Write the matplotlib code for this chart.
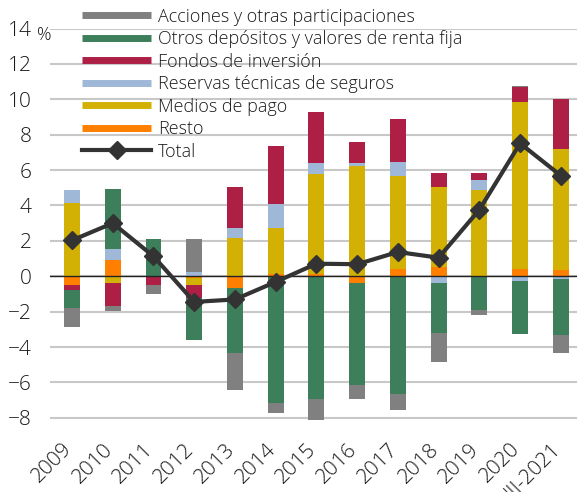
import numpy as np
import matplotlib.pyplot as plt
import matplotlib.transforms as mtransforms
from matplotlib.lines import Line2D

plt.rcParams['font.family'] = ['Open Sans', 'DejaVu Sans']
plt.rcParams['font.weight'] = 'light'

# categories
years = ['2009', '2010', '2011', '2012', '2013', '2014', '2015', '2016',
         '2017', '2018', '2019', '2020', 'III-2021']

# contributions (pp), in stacking order from the zero line outwards
resto = [-0.47, 0.94, 0.0, -0.12, -0.68, 0.15, 0.15, -0.38, 0.43, 0.53, 0.0, 0.43, 0.34]
medios = [4.15, -0.38, 0.0, -0.35, 2.14, 2.59, 5.63, 6.21, 5.24, 4.54, 4.88, 9.39, 6.85]
reservas = [0.73, 0.58, 0.0, 0.22, 0.60, 1.32, 0.60, 0.17, 0.81, -0.38, 0.58, -0.28, -0.17]
fondos = [-0.28, -1.31, -0.47, -0.75, 2.33, 3.32, 2.92, 1.21, 2.42, 0.79, 0.40, 0.88, 2.82]
otros = [-1.03, 3.42, 2.12, -2.40, -3.64, -7.17, -6.95, -5.76, -6.65, -2.85, -1.92, -3.01, -3.15]
acciones = [-1.11, -0.26, -0.51, 1.88, -2.10, -0.57, -1.20, -0.81, -0.90, -1.60, -0.28, 0.08, -1.00]
total = [2.03, 3.00, 1.13, -1.45, -1.31, -0.32, 0.71, 0.68, 1.37, 1.05, 3.76, 7.51, 5.69]

series = [
    ('Resto', resto, '#ff8000'),
    ('Medios de pago', medios, '#d3b104'),
    ('Reservas técnicas de seguros', reservas, '#9fb8d8'),
    ('Fondos de inversión', fondos, '#ae1f45'),
    ('Otros depósitos y valores de renta fija', otros, '#3d7f5a'),
    ('Acciones y otras participaciones', acciones, '#808080'),
]

fig = plt.figure(figsize=(5.78, 4.92), dpi=100)
ax = fig.add_axes([0.0865, 0.14, 0.912, 0.802])

x = np.arange(len(years))
pos_bottom = np.zeros(len(years))
neg_bottom = np.zeros(len(years))
for name, vals, col in series:
    v = np.array(vals)
    bottom = np.where(v >= 0, pos_bottom, neg_bottom)
    ax.bar(x, v, width=0.39, bottom=bottom, color=col, zorder=2)
    pos_bottom += np.where(v >= 0, v, 0)
    neg_bottom += np.where(v < 0, v, 0)

ax.axhline(0, color='#222222', lw=1.0, zorder=3)
ax.plot(x, total, color='#333333', lw=3, marker='D', ms=9, zorder=4)

ax.set_xlim(-0.54, 12.4)
ax.set_ylim(-8.3, 14)
ax.set_yticks(range(-8, 15, 2))
ax.grid(axis='y', color='#c8c8c8', lw=1.5, zorder=0)
ax.set_axisbelow(True)
for s in ax.spines.values():
    s.set_visible(False)

ax.set_xticks(x)
ax.set_xticklabels(years, rotation=45, ha='right', va='top', rotation_mode='anchor')
ax.tick_params(axis='x', length=0, pad=8, labelsize=15, labelcolor='#1a1a1a')
ax.tick_params(axis='y', length=0, pad=13, labelsize=15, labelcolor='#1a1a1a')
shift = mtransforms.ScaledTranslation(-10 / 100, -5 / 100, fig.dpi_scale_trans)
for lab in ax.get_xticklabels():
    lab.set_transform(lab.get_transform() + shift)

fig.text(0.064, 0.928, '%', fontsize=13, color='#1a1a1a', va='center')

# legend (reverse of stacking order, then the total)
handles = [Line2D([0], [0], color=col, lw=5, solid_capstyle='butt')
           for name, vals, col in reversed(series)]
labels = [name for name, vals, col in reversed(series)]
handles.append(Line2D([0], [0], color='#333333', lw=3, marker='D', ms=9))
labels.append('Total')
fig.legend(handles, labels, loc='upper left', bbox_to_anchor=(0.13, 0.999),
           frameon=False, fontsize=13, handlelength=3.8, handletextpad=0.4,
           labelspacing=0.25, borderaxespad=0, labelcolor='#1a1a1a')

fig.savefig('out.png', dpi=100)
